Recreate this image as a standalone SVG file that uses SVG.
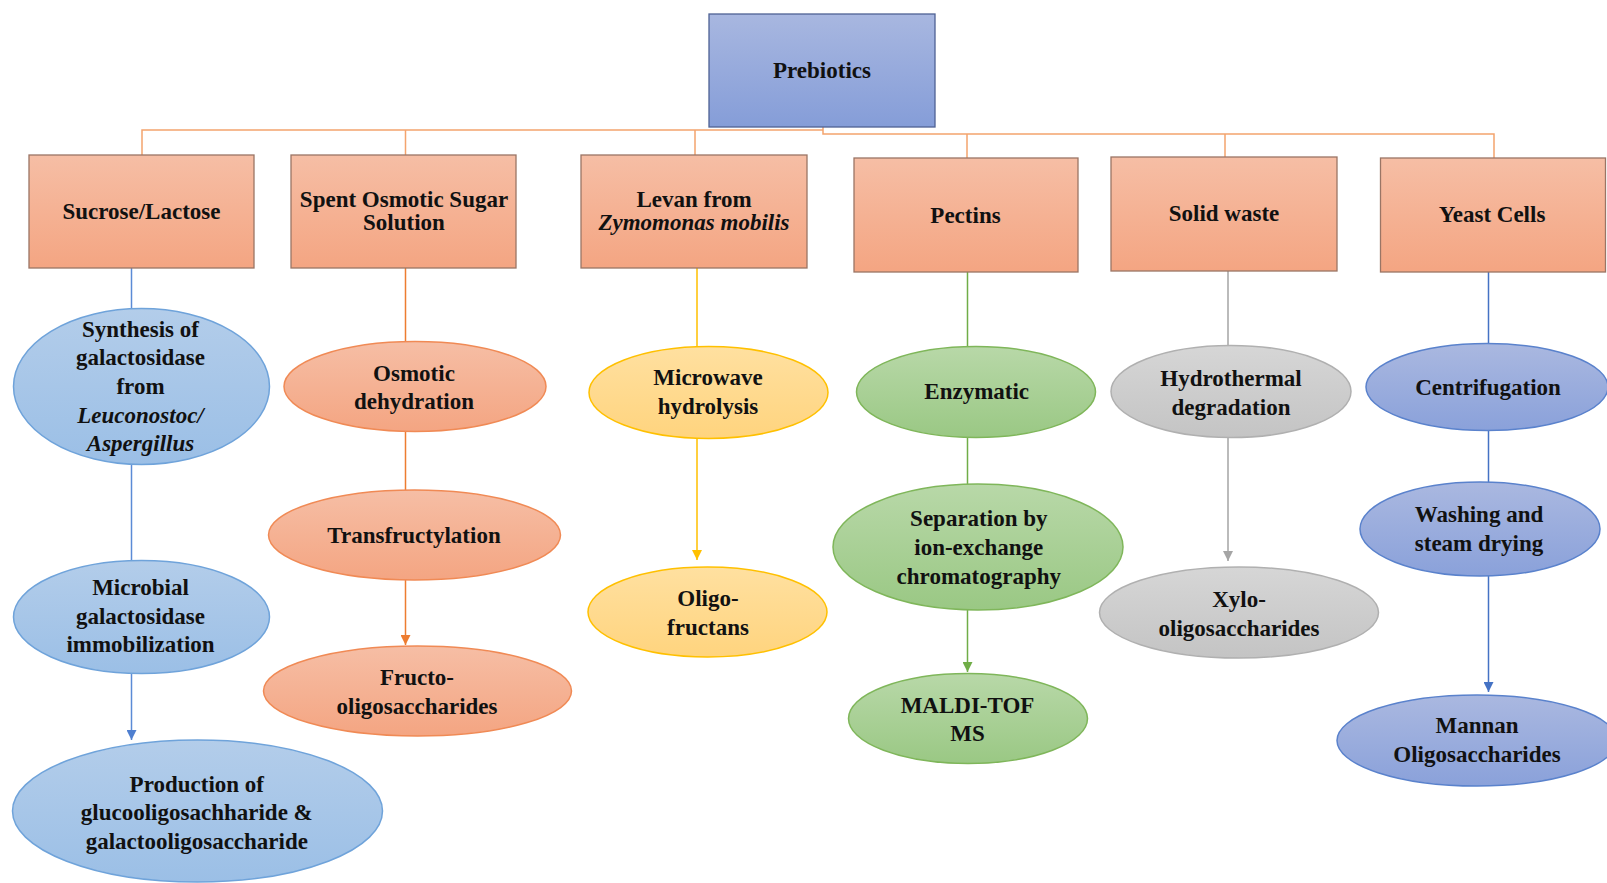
<svg xmlns="http://www.w3.org/2000/svg" width="1607" height="883" viewBox="0 0 1607 883">
<style>
text{font-family:"Liberation Serif","Times New Roman",serif;font-weight:bold;font-size:23px;fill:#111;text-anchor:middle;dominant-baseline:central}
.it{font-style:italic}
.box{fill:url(#gBox);stroke:#9a7565;stroke-width:1.3}
.top{fill:url(#gTop);stroke:#4f6294;stroke-width:1.3}
.eb{fill:url(#gBlue);stroke:#6fa3da;stroke-width:1.5}
.eo{fill:url(#gOr);stroke:#f08a55;stroke-width:1.5}
.ey{fill:url(#gYe);stroke:#ffc000;stroke-width:1.5}
.eg{fill:url(#gGr);stroke:#7fb65a;stroke-width:1.5}
.ex{fill:url(#gGy);stroke:#b0b0b0;stroke-width:1.5}
.ed{fill:url(#gDb);stroke:#5a82cc;stroke-width:1.5}
.c{fill:none;stroke-width:1.5}
</style>
<defs>
<linearGradient id="gBox" x1="0" y1="0" x2="0" y2="1"><stop offset="0" stop-color="#f6bea5"/><stop offset="1" stop-color="#f4a582"/></linearGradient>
<linearGradient id="gTop" x1="0" y1="0" x2="0" y2="1"><stop offset="0" stop-color="#a8b7e0"/><stop offset="1" stop-color="#859dd8"/></linearGradient>
<linearGradient id="gBlue" x1="0" y1="0" x2="0" y2="1"><stop offset="0" stop-color="#b3cdea"/><stop offset="1" stop-color="#9bbfe6"/></linearGradient>
<linearGradient id="gOr" x1="0" y1="0" x2="0" y2="1"><stop offset="0" stop-color="#f6bea5"/><stop offset="1" stop-color="#f4a582"/></linearGradient>
<linearGradient id="gYe" x1="0" y1="0" x2="0" y2="1"><stop offset="0" stop-color="#ffe0a0"/><stop offset="1" stop-color="#ffd47e"/></linearGradient>
<linearGradient id="gGr" x1="0" y1="0" x2="0" y2="1"><stop offset="0" stop-color="#b8d8a8"/><stop offset="1" stop-color="#9ac884"/></linearGradient>
<linearGradient id="gGy" x1="0" y1="0" x2="0" y2="1"><stop offset="0" stop-color="#d6d6d6"/><stop offset="1" stop-color="#c4c4c4"/></linearGradient>
<linearGradient id="gDb" x1="0" y1="0" x2="0" y2="1"><stop offset="0" stop-color="#aab8e0"/><stop offset="1" stop-color="#8aa1da"/></linearGradient>
<marker id="aB" markerWidth="10" markerHeight="10" refX="10" refY="5" orient="auto" markerUnits="userSpaceOnUse"><path d="M0,0L10,5L0,10z" fill="#4f7fd0"/></marker>
<marker id="aO" markerWidth="10" markerHeight="10" refX="10" refY="5" orient="auto" markerUnits="userSpaceOnUse"><path d="M0,0L10,5L0,10z" fill="#ed7d31"/></marker>
<marker id="aY" markerWidth="10" markerHeight="10" refX="10" refY="5" orient="auto" markerUnits="userSpaceOnUse"><path d="M0,0L10,5L0,10z" fill="#ffc000"/></marker>
<marker id="aG" markerWidth="10" markerHeight="10" refX="10" refY="5" orient="auto" markerUnits="userSpaceOnUse"><path d="M0,0L10,5L0,10z" fill="#70ad47"/></marker>
<marker id="aX" markerWidth="10" markerHeight="10" refX="10" refY="5" orient="auto" markerUnits="userSpaceOnUse"><path d="M0,0L10,5L0,10z" fill="#a5a5a5"/></marker>
<marker id="aD" markerWidth="10" markerHeight="10" refX="10" refY="5" orient="auto" markerUnits="userSpaceOnUse"><path d="M0,0L10,5L0,10z" fill="#4472c4"/></marker>
</defs>
<rect width="1607" height="883" fill="#fff"/>
<g id="connectors">
<path class="c" stroke="#f4a46e" stroke-width="2" d="M142,155V130H823M405.5,130V155M695,130V155"/>
<path class="c" stroke="#f4a46e" stroke-width="2" d="M823,127V134H1494V158M967,134V158M1225,134V157"/>
<path class="c" stroke="#5b8bd6" d="M131.5,268V308.5M131.5,464V561M131.5,673V740" marker-end="url(#aB)"/>
<path class="c" stroke="#ed7d31" d="M405.5,268V341M405.5,431.5V490M405.5,580V645" marker-end="url(#aO)"/>
<path class="c" stroke="#ffc000" d="M697,268V346.5M697,438.5V560" marker-end="url(#aY)"/>
<path class="c" stroke="#70ad47" d="M967.5,272V346.5M967.5,437.5V484M967.5,610V672" marker-end="url(#aG)"/>
<path class="c" stroke="#a5a5a5" d="M1228,271V345.5M1228,437.5V561" marker-end="url(#aX)"/>
<path class="c" stroke="#4472c4" d="M1488.5,272V343.5M1488.5,430.5V482M1488.5,576V692" marker-end="url(#aD)"/>
</g>
<g id="prebiotics"><rect class="top" x="709" y="14" width="226" height="113"/><text x="822" y="70">Prebiotics</text></g>
<g id="sucrose"><rect class="box" x="29" y="155" width="225" height="113"/><text x="141.5" y="211">Sucrose/Lactose</text></g>
<g id="spent"><rect class="box" x="291" y="155" width="225" height="113"/><text x="404" y="199">Spent Osmotic Sugar</text><text x="404" y="222.5">Solution</text></g>
<g id="levan"><rect class="box" x="581" y="155" width="226" height="113"/><text x="694" y="199">Levan from</text><text class="it" x="694" y="222.5">Zymomonas mobilis</text></g>
<g id="pectins"><rect class="box" x="854" y="158" width="224" height="114"/><text x="965.5" y="215">Pectins</text></g>
<g id="solidwaste"><rect class="box" x="1111" y="157" width="226" height="114"/><text x="1224" y="213">Solid waste</text></g>
<g id="yeast"><rect class="box" x="1380.5" y="158" width="225" height="114"/><text x="1492" y="214">Yeast Cells</text></g>
<g id="synthesis"><ellipse class="eb" cx="141.5" cy="386.5" rx="128" ry="78"/><text x="140.5" y="329">Synthesis of</text><text x="140.5" y="357.7">galactosidase</text><text x="140.5" y="386.4">from</text><text class="it" x="140.5" y="415">Leuconostoc/</text><text class="it" x="140.5" y="443.8">Aspergillus</text></g>
<g id="microbial"><ellipse class="eb" cx="141.5" cy="617" rx="128" ry="56.5"/><text x="140.5" y="587">Microbial</text><text x="140.5" y="616">galactosidase</text><text x="140.5" y="644.7">immobilization</text></g>
<g id="production"><ellipse class="eb" cx="197.5" cy="811" rx="185" ry="71"/><text x="196.8" y="784">Production of</text><text x="196.8" y="812.7">glucooligosachharide &amp;</text><text x="196.8" y="841.5">galactooligosaccharide</text></g>
<g id="osmotic"><ellipse class="eo" cx="415" cy="386.5" rx="131" ry="45"/><text x="414" y="373">Osmotic</text><text x="414" y="401.8">dehydration</text></g>
<g id="transfructylation"><ellipse class="eo" cx="414.5" cy="535" rx="146" ry="45"/><text x="414" y="535">Transfructylation</text></g>
<g id="fos"><ellipse class="eo" cx="417.5" cy="691" rx="154" ry="45"/><text x="417" y="677.5">Fructo-</text><text x="417" y="706">oligosaccharides</text></g>
<g id="microwave"><ellipse class="ey" cx="708.5" cy="392.5" rx="119.5" ry="46"/><text x="708" y="377">Microwave</text><text x="708" y="406">hydrolysis</text></g>
<g id="oligofructans"><ellipse class="ey" cx="707.5" cy="612" rx="119.5" ry="45"/><text x="708" y="598.6">Oligo-</text><text x="708" y="627">fructans</text></g>
<g id="enzymatic"><ellipse class="eg" cx="976" cy="392" rx="119.5" ry="45.5"/><text x="976.7" y="391.5">Enzymatic</text></g>
<g id="separation"><ellipse class="eg" cx="978" cy="547" rx="145" ry="63"/><text x="978.8" y="518.6">Separation by</text><text x="978.8" y="547.3">ion-exchange</text><text x="978.8" y="576">chromatography</text></g>
<g id="maldi"><ellipse class="eg" cx="968" cy="718.5" rx="119.5" ry="45"/><text x="967.5" y="705">MALDI-TOF</text><text x="967.5" y="733.8">MS</text></g>
<g id="hydrothermal"><ellipse class="ex" cx="1231" cy="391.5" rx="120" ry="46"/><text x="1231" y="378">Hydrothermal</text><text x="1231" y="407">degradation</text></g>
<g id="xos"><ellipse class="ex" cx="1239" cy="612.5" rx="139.5" ry="45.5"/><text x="1239" y="599.6">Xylo-</text><text x="1239" y="628.3">oligosaccharides</text></g>
<g id="centrifugation"><ellipse class="ed" cx="1487" cy="387" rx="121" ry="43.5"/><text x="1488" y="387.4">Centrifugation</text></g>
<g id="washing"><ellipse class="ed" cx="1480" cy="529" rx="120" ry="47"/><text x="1479" y="514.5">Washing and</text><text x="1479" y="543.2">steam drying</text></g>
<g id="mos"><ellipse class="ed" cx="1477" cy="740.5" rx="140" ry="45.5"/><text x="1477" y="725.6">Mannan</text><text x="1477" y="754.3">Oligosaccharides</text></g>
</svg>
